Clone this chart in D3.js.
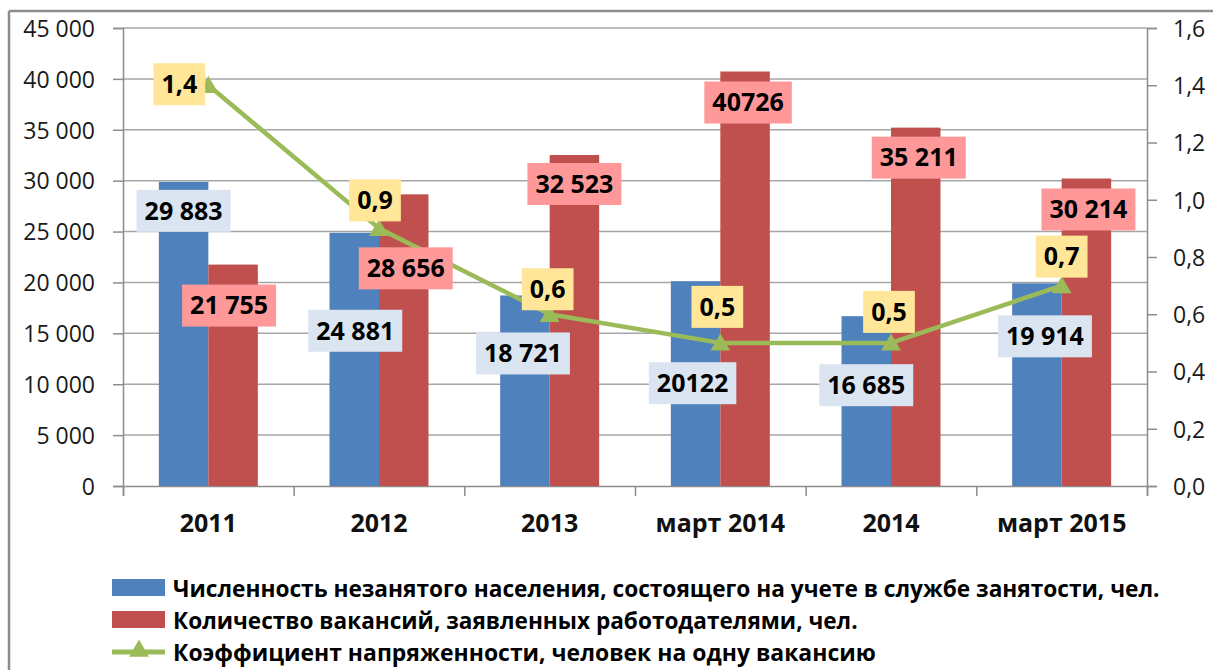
<!DOCTYPE html>
<html>
<head>
<meta charset="utf-8">
<script src="https://cdn.jsdelivr.net/npm/d3@7"></script>
<style>
  body { margin: 0; background: #fff; }
  svg { display: block; font-family: "Open Sans", "Noto Sans", sans-serif; }
</style>
</head>
<body>
<div id="chart-area"></div>
<script>
// categories and series
var categories = ["2011", "2012", "2013", "март 2014", "2014", "март 2015"];
var unemployed = [29883, 24881, 18721, 20122, 16685, 19914];
var vacancies = [21755, 28656, 32523, 40726, 35211, 30214];
var tension = [1.4, 0.9, 0.6, 0.5, 0.5, 0.7];
var unemployedText = ["29 883", "24 881", "18 721", "20122", "16 685", "19 914"];
var vacanciesText = ["21 755", "28 656", "32 523", "40726", "35 211", "30 214"];
var tensionText = ["1,4", "0,9", "0,6", "0,5", "0,5", "0,7"];
var leftTicks = [0, 5000, 10000, 15000, 20000, 25000, 30000, 35000, 40000, 45000];
var rightTicks = [0, 0.2, 0.4, 0.6, 0.8, 1.0, 1.2, 1.4, 1.6];
var legendNames = [
    "Численность незанятого  населения, состоящего на учете в службе занятости, чел.",
    "Количество вакансий, заявленных работодателями, чел.",
    "Коэффициент напряженности, человек на одну вакансию"
];

// label nudges (px), moved by hand like in the original
var blueNudge = [[0, 29], [1, 98], [-2, 58], [-3, 102], [0, 69], [8, 53]];
var redNudge = [[-4, 41], [2, 74], [0, 29], [3, 31], [3, 30], [2, 31]];
var lineNudge = [[-29, -1], [-4, -28], [-2, -25], [-3, -36], [-2, -31], [0, -29]];

var W = 1213, H = 670;
var plot = {left: 123, right: 1147, top: 28, bottom: 486};

var svg = d3.select("#chart-area")
    .append("svg")
        .attr("width", W)
        .attr("height", H);

// frame
svg.append("line")
    .attr("x1", 9).attr("x2", W).attr("y1", 11).attr("y2", 11)
    .attr("stroke", "#8c8c8c").attr("stroke-width", 2.5);
svg.append("line")
    .attr("x1", 9).attr("x2", 9).attr("y1", 11).attr("y2", H)
    .attr("stroke", "#8c8c8c").attr("stroke-width", 2.5);

var x = d3.scaleBand()
    .domain(categories)
    .range([plot.left, plot.right])
    .paddingInner(0.42)
    .paddingOuter(0.21);

var xSub = d3.scaleBand()
    .domain([0, 1])
    .range([0, x.bandwidth()]);

var xEdge = d3.scaleLinear()
    .domain([0, categories.length])
    .range([plot.left, plot.right]);

var y = d3.scaleLinear()
    .domain([0, 45000])
    .range([plot.bottom, plot.top]);

var y2 = d3.scaleLinear()
    .domain([0, 1.6])
    .range([plot.bottom, plot.top]);

// gridlines
svg.append("g")
    .selectAll("line")
    .data(leftTicks.slice(1))
    .enter().append("line")
        .attr("x1", plot.left).attr("x2", plot.right)
        .attr("y1", d => y(d)).attr("y2", d => y(d))
        .attr("stroke", "#a6a6a6").attr("stroke-width", 1.5);

// left axis
var yAxisCall = d3.axisLeft(y)
    .tickValues(leftTicks)
    .tickSize(10)
    .tickPadding(18)
    .tickFormat(d => d3.format(",")(d).replace(/,/g, " "));

var yAxis = svg.append("g")
    .attr("transform", "translate(" + plot.left + ",0)")
    .call(yAxisCall);

// right axis
var y2AxisCall = d3.axisRight(y2)
    .tickValues(rightTicks)
    .tickSize(10)
    .tickPadding(16)
    .tickFormat(d => d3.format(".1f")(d).replace(".", ","));

var y2Axis = svg.append("g")
    .attr("transform", "translate(" + plot.right + ",0)")
    .call(y2AxisCall);

// bottom axis: ticks between categories
var xAxis = svg.append("g")
    .attr("transform", "translate(0," + plot.bottom + ")")
    .call(d3.axisBottom(xEdge).tickValues(d3.range(categories.length + 1)).tickSize(10).tickFormat(""));

[yAxis, y2Axis, xAxis].forEach(a => {
    a.select(".domain").attr("stroke", "#8c8c8c").attr("stroke-width", 1.5);
    a.selectAll(".tick line").attr("stroke", "#8c8c8c").attr("stroke-width", 1.5);
    a.selectAll("text").attr("font-size", "23px").attr("fill", "#1a1a1a")
        .attr("font-family", "'Open Sans', sans-serif");
});
yAxis.selectAll(".tick text").attr("dy", "0.36em");
y2Axis.selectAll(".tick text").attr("dy", "0.36em");

// category labels
svg.append("g")
    .selectAll("text")
    .data(categories)
    .enter().append("text")
        .attr("x", d => x(d) + x.bandwidth() / 2)
        .attr("y", 532)
        .attr("text-anchor", "middle")
        .attr("font-size", "25px")
        .attr("font-weight", "bold")
        .attr("fill", "#111")
        .text(d => d);

// bars
var bars = svg.append("g");
bars.selectAll("rect.blue")
    .data(unemployed)
    .enter().append("rect")
        .attr("class", "blue")
        .attr("x", (d, i) => x(categories[i]) + xSub(0))
        .attr("y", d => y(d))
        .attr("width", xSub.bandwidth())
        .attr("height", d => plot.bottom - y(d))
        .attr("fill", "#4f81bd");

bars.selectAll("rect.red")
    .data(vacancies)
    .enter().append("rect")
        .attr("class", "red")
        .attr("x", (d, i) => x(categories[i]) + xSub(1))
        .attr("y", d => y(d))
        .attr("width", xSub.bandwidth())
        .attr("height", d => plot.bottom - y(d))
        .attr("fill", "#c0504d");

// line
var linePts = tension.map((d, i) => [x(categories[i]) + x.bandwidth() / 2, y2(d)]);

svg.append("path")
    .attr("d", d3.line()(linePts))
    .attr("fill", "none")
    .attr("stroke", "#9bbb59")
    .attr("stroke-width", 4.5)
    .attr("stroke-linejoin", "round");

svg.append("g")
    .selectAll("path")
    .data(linePts)
    .enter().append("path")
        .attr("transform", d => "translate(" + d[0] + "," + (d[1] + 2) + ")")
        .attr("d", d3.symbol().type(d3.symbolTriangle).size(170))
        .attr("fill", "#9bbb59");

// data labels
function addLabels(cls, values, texts, cx, cy, nudge, bg) {
    var g = svg.append("g").attr("class", cls);
    var lab = g.selectAll("g")
        .data(values)
        .enter().append("g")
            .attr("transform", (d, i) => "translate(" + (cx(i) + nudge[i][0]) + "," + (cy(d) + nudge[i][1]) + ")");
    lab.append("rect").attr("fill", bg);
    lab.append("text")
        .attr("text-anchor", "middle")
        .attr("dy", "0.35em")
        .attr("font-size", "25px")
        .attr("font-weight", "bold")
        .attr("fill", "#000")
        .text((d, i) => texts[i]);
    lab.each(function() {
        var t = d3.select(this).select("text").node().getBBox();
        d3.select(this).select("rect")
            .attr("x", -t.width / 2 - 8)
            .attr("y", -21)
            .attr("width", t.width + 16)
            .attr("height", 42);
    });
}

addLabels("lab-blue", unemployed, unemployedText,
    i => x(categories[i]) + xSub(0) + xSub.bandwidth() / 2, y, blueNudge, "#dbe4f1");
addLabels("lab-red", vacancies, vacanciesText,
    i => x(categories[i]) + xSub(1) + xSub.bandwidth() / 2, y, redNudge, "#ff9999");
addLabels("lab-line", tension, tensionText,
    i => x(categories[i]) + x.bandwidth() / 2, y2, lineNudge, "#ffe699");

// legend
var legendX = 112, legendY = [588, 620, 652], legendEnd = [1160, 858, 876];
var legend = svg.append("g");
legend.append("rect").attr("x", legendX).attr("y", legendY[0] - 9).attr("width", 53).attr("height", 17).attr("fill", "#4f81bd");
legend.append("rect").attr("x", legendX).attr("y", legendY[1] - 9).attr("width", 53).attr("height", 17).attr("fill", "#c0504d");
legend.append("line")
    .attr("x1", legendX).attr("x2", legendX + 53)
    .attr("y1", legendY[2]).attr("y2", legendY[2])
    .attr("stroke", "#9bbb59").attr("stroke-width", 5);
legend.append("path")
    .attr("transform", "translate(" + (legendX + 27) + "," + (legendY[2] - 1) + ")")
    .attr("d", d3.symbol().type(d3.symbolTriangle).size(170))
    .attr("fill", "#9bbb59");

// legend text is narrow in the original, squeeze it horizontally
legend.selectAll("text")
    .data(legendNames)
    .enter().append("text")
        .attr("x", 0)
        .attr("y", 0)
        .attr("dy", "0.36em")
        .attr("font-size", "24px")
        .attr("font-weight", "bold")
        .attr("fill", "#000")
        .text(d => d)
        .each(function(d, i) {
            var w = this.getComputedTextLength();
            var k = (legendEnd[i] - 173) / w;
            d3.select(this).attr("transform", "translate(173," + legendY[i] + ") scale(" + k + ",1)");
        });
</script>
</body>
</html>
